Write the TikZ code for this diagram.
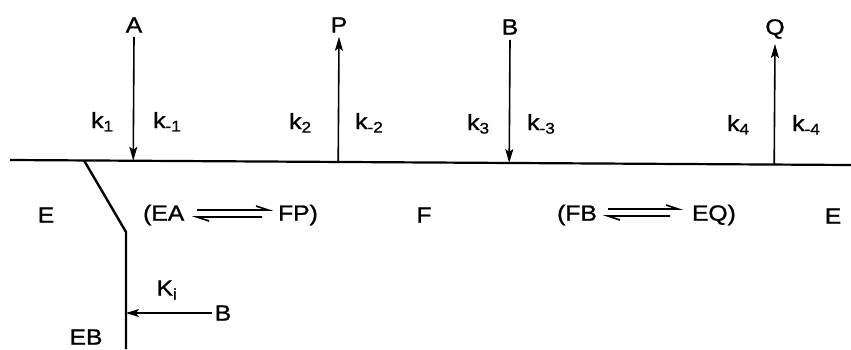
\documentclass[tikz,border=0pt]{standalone}
\usepackage{fontspec}
\setmainfont{Liberation Sans}[FakeStretch=1.12,FakeBold=1.2]
\usetikzlibrary{arrows.meta,calc}
\tikzset{
  lbl/.style={inner sep=0pt},
  kl/.style={inner sep=0pt, anchor=base west},
  arr/.style={line width=1.6pt, -{Stealth[length=14pt,width=8pt,inset=3pt]}},
  arrs/.style={line width=1.6pt, -{Stealth[length=13pt,width=8pt,inset=3pt]}},
  mainline/.style={line width=2.2pt},
  wall/.style={line width=2.4pt},
  harp/.style={line width=1.6pt}
}
\begin{document}
\begin{tikzpicture}[x=1pt,y=-1pt,font=\fontsize{22}{24}\selectfont]
\useasboundingbox (0,0) rectangle (851,349);
% main line
\coordinate (L) at (10,160);
\coordinate (R) at (851,165);
\draw[mainline] (L) -- (R);
% substrates and products
\node[lbl] (A) at (134,25) {A};
\node[lbl] (P) at (339,25) {P};
\node[lbl] (B) at (510,27) {B};
\node[lbl] (Q) at (775,29) {Q};
\coordinate (la) at ($(L)!(A.south)!(R)$);
\coordinate (lp) at ($(L)!(P.south)!(R)$);
\coordinate (lb) at ($(L)!(B.south)!(R)$);
\coordinate (lq) at ($(L)!(Q.south)!(R)$);
\draw[arr] ([yshift=-4pt]A.south) -- (la);
\draw[arr] (lp) -- ([yshift=-4pt]P.south);
\draw[arr] ([yshift=-5pt]B.south) -- (lb);
\draw[arr] (lq) -- ([yshift=-5pt]Q.south);
% rate constants
\node[kl] (k1) at (91,128) {k\textsubscript{1}};
\node[kl] (km1) at (153,128) {k\textsubscript{-1}};
\node[kl] (k2) at (289,129) {k\textsubscript{2}};
\node[kl] (km2) at (355,129) {k\textsubscript{-2}};
\node[kl] (k3) at (467,130) {k\textsubscript{3}};
\node[kl] (km3) at (527,130) {k\textsubscript{-3}};
\node[kl] (k4) at (727,131) {k\textsubscript{4}};
\node[kl] (km4) at (792,131) {k\textsubscript{-4}};
% enzyme forms
\node[lbl] (E1) at (46,215) {E};
\node[lbl] (F) at (424,215) {F};
\node[lbl] (E2) at (833,216) {E};
\node[lbl,anchor=west] (ea) at (143,215) {(EA};
\node[lbl,anchor=east] (fp) at (318,215) {FP)};
\node[lbl,anchor=west] (fb) at (557,215) {(FB};
\node[lbl,anchor=east] (eq) at (736,215) {EQ)};
% equilibrium harpoons
\coordinate (h1a) at (197,210);
\coordinate (h1b) at (268,210);
\coordinate (h2a) at (197,217);
\coordinate (h2b) at (262,217);
\draw[harp] (h1a) -- (h1b) -- ++(-12,-4);
\draw[harp] (h2a) ++(12,4) -- (h2a) -- (h2b);
\coordinate (h3a) at (608,209);
\coordinate (h3b) at (678,209);
\coordinate (h4a) at (608,216);
\coordinate (h4b) at (670,216);
\draw[harp] (h3a) -- (h3b) -- ++(-12,-4);
\draw[harp] (h4a) ++(12,4) -- (h4a) -- (h4b);
% dead-end branch
\coordinate (d0) at ($(L)!(85,0)!(R)$);
\coordinate (d1) at (126,232);
\coordinate (d2) at (126,349);
\draw[wall] (d0) -- (d1) -- (d2);
\node[lbl] (Ki) at (167,290) {K\textsubscript{i}};
\node[lbl] (B2) at (223,313) {B};
\draw[arrs] ([xshift=-3pt]B2.west) -- (B2.west -| d1);
\node[lbl] (EB) at (86,337) {EB};
\end{tikzpicture}
\end{document}
